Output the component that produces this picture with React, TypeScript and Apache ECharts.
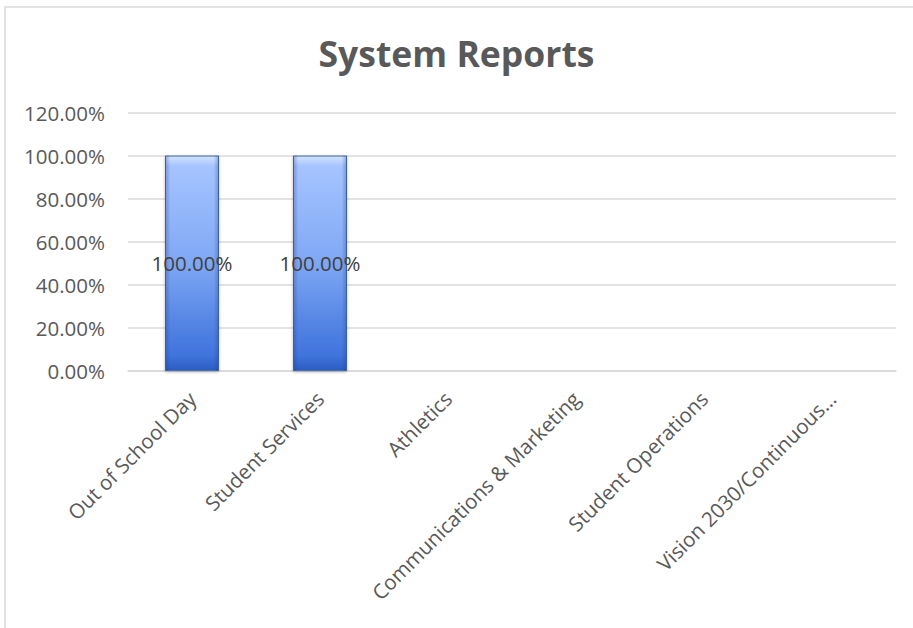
import React, { useEffect, useRef } from "react";
import * as echarts from "echarts";

const categories = [
  "Out of School Day",
  "Student Services",
  "Athletics",
  "Communications & Marketing",
  "Student Operations",
  "Vision 2030/Continuous…",
];
const values = [1, 1, 0, 0, 0, 0];
const yMin = 0;
const yMax = 1.2;
const yInterval = 0.2;

const fmtPct = (v: number) => (v * 100).toFixed(2) + "%";

export default function App() {
  const ref = useRef<HTMLDivElement>(null);
  useEffect(() => {
    if (!ref.current) return;
    const chart = echarts.init(ref.current, undefined, { renderer: "svg" });
    const font = "'Open Sans', sans-serif";
    const barData = values.map((v) => (v > 0 ? v : null));
    chart.setOption({
      animation: false,
      backgroundColor: "#ffffff",
      textStyle: { fontFamily: font },
      title: {
        text: "System Reports",
        left: "center",
        top: 30,
        textStyle: { fontFamily: font, fontSize: 35.5, fontWeight: "bold", color: "#595959" },
      },
      graphic: [
        {
          type: "rect",
          shape: { x: 5, y: 7, width: 920, height: 640 },
          style: { fill: "none", stroke: "#d9d9d9", lineWidth: 1.5 },
          silent: true,
        },
      ],
      grid: { left: 128, right: 17, top: 112.5, bottom: 257, containLabel: false },
      xAxis: {
        type: "category",
        data: categories,
        axisLine: { show: true, lineStyle: { color: "#d9d9d9", width: 1.5 } },
        axisTick: { show: false },
        axisLabel: {
          rotate: 45,
          interval: 0,
          fontSize: 20.5,
          color: "#595959",
          fontFamily: font,
          margin: 24,
        },
      },
      yAxis: {
        type: "value",
        min: yMin,
        max: yMax,
        interval: yInterval,
        axisLine: { show: false },
        axisTick: { show: false },
        splitLine: { lineStyle: { color: "#d9d9d9", width: 1.5 } },
        axisLabel: {
          formatter: (v: number) => fmtPct(v),
          fontSize: 20.5,
          color: "#595959",
          fontFamily: font,
          margin: 23,
        },
      },
      series: [
        {
          type: "bar",
          data: barData,
          barWidth: 54,
          z: 2,
          itemStyle: {
            color: new echarts.graphic.LinearGradient(0, 0, 0, 1, [
              { offset: 0, color: "#d2e4ff" },
              { offset: 0.045, color: "#a6c4ff" },
              { offset: 0.5, color: "#7ea7f4" },
              { offset: 0.93, color: "#3f73dc" },
              { offset: 1, color: "#2b5cc2" },
            ]),
            borderColor: "#4d6fae",
            borderWidth: 1,
            shadowColor: "rgba(0,0,0,0.3)",
            shadowBlur: 3,
            shadowOffsetY: 1,
          },
        },
        {
          type: "bar",
          data: barData,
          barWidth: 54,
          barGap: "-100%",
          z: 3,
          silent: true,
          itemStyle: {
            color: new echarts.graphic.LinearGradient(0, 0, 1, 0, [
              { offset: 0, color: "rgba(30,60,130,0.35)" },
              { offset: 0.1, color: "rgba(30,60,130,0.0)" },
              { offset: 0.9, color: "rgba(30,60,130,0.0)" },
              { offset: 1, color: "rgba(30,60,130,0.35)" },
            ]),
          },
          label: {
            show: true,
            position: "inside",
            formatter: (p: any) => fmtPct(p.value),
            fontSize: 20.5,
            color: "#404040",
            fontFamily: font,
          },
        },
      ],
    });
    return () => chart.dispose();
  }, []);
  return (
    <div
      ref={ref}
      style={{ position: "fixed", left: 0, top: 0, width: 913, height: 628, background: "#fff" }}
    />
  );
}
